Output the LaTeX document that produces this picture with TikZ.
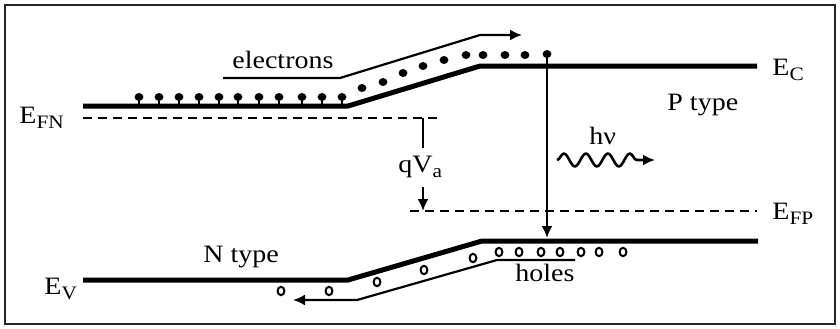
\documentclass[tikz,border=0pt]{standalone}
\usepackage{fontspec}
\setmainfont{Liberation Serif}[FakeStretch=1.12]
\usetikzlibrary{arrows.meta,decorations.pathmorphing}
\newcommand\lowsub[1]{\raisebox{-2.5pt}{\fontsize{9.5}{11}\selectfont #1}}
\begin{document}
\begin{tikzpicture}[x=0.5pt,y=-0.5pt,
 band/.style={line width=2.5pt},
 thinln/.style={line width=1.1pt},
 fermi/.style={line width=1.2pt, dash pattern=on 4.5pt off 3pt},
 lbl/.style={inner sep=0pt, anchor=base west, font=\fontsize{12.5}{14}\selectfont},
 hole/.style={draw=black, line width=1pt, fill=white},
 tipend/.style={-{Latex[length=6pt,width=5.5pt]}}
]
\useasboundingbox (0,0) rectangle (840,328);
\draw[line width=1.3pt, draw=black!85] (5,5) rectangle (835,324);

% bands
\draw[band] (83,106) -- (348,106) -- (480,66) -- (757,66);
\draw[band] (83,280) -- (348,280) -- (482,241) -- (758,241);

% quasi Fermi levels
\draw[fermi] (83,118) -- (440,118);
\draw[fermi] (410,211) -- (757,211);

% carrier paths
\draw[thinln,tipend] (223,78) -- (340,78) -- (480,35) -- (522,35);
\draw[thinln,tipend] (575,260) -- (497,260) -- (357,300) -- (293,300);

% electrons
\foreach \x in {139,159,179,199,219,238,259,279,302,322,342}{
  \draw[line width=1pt] (\x,97) -- (\x,104);
  \fill (\x,97) ellipse[x radius=2.2pt, y radius=2pt];
}
\foreach \x/\y in {362/88,383/82,403/73,423/66,444/60,466/55,483/55,505/55,525/55,547/54}{
  \fill (\x,\y) ellipse[x radius=2.2pt, y radius=2pt];
}

% holes
\foreach \x/\y in {281/291,329/291,377/282,424/270,473/258,499/252,519/252,541/252,560/252,581/252,599/252,623/252}{
  \draw[hole] (\x,\y) ellipse[x radius=1.7pt, y radius=2.1pt];
}

% recombination transition
\coordinate (eup) at (547,54);
\coordinate (hdown) at (547,238);
\draw[line width=1.2pt,tipend] (eup) -- (hdown);

% qVa marker
\coordinate (qa1) at (423,118);
\coordinate (qa2) at (423,148);
\coordinate (qa3) at (423,187);
\coordinate (qa4) at (423,211);
\draw[thinln] (qa1) -- (qa2);
\draw[thinln,tipend] (qa3) -- (qa4);

% photon
\coordinate (ph1) at (557,160);
\coordinate (ph2) at (655,160);
\draw[line width=1.3pt, decorate, decoration={snake, amplitude=3.2pt, segment length=11pt, post length=4pt}, tipend] (ph1) -- (ph2);

% labels
\node[lbl] (efn) at (19,123) {E\lowsub{FN}};
\node[lbl] (ec) at (772,75) {E\lowsub{C}};
\node[lbl] (efp) at (772,219) {E\lowsub{FP}};
\node[lbl] (ev) at (44,294) {E\lowsub{V}};
\node[lbl] (pt) at (667,110) {P type};
\node[lbl] (nt) at (203,262) {N type};
\node[lbl] (hnu) at (589,144) {hν};
\node[lbl] (qva) at (398,172) {qV\lowsub{a}};
\node[lbl] (holes) at (515,281) {holes};
\node[lbl] (el) at (232,68) {electrons};
\end{tikzpicture}
\end{document}
